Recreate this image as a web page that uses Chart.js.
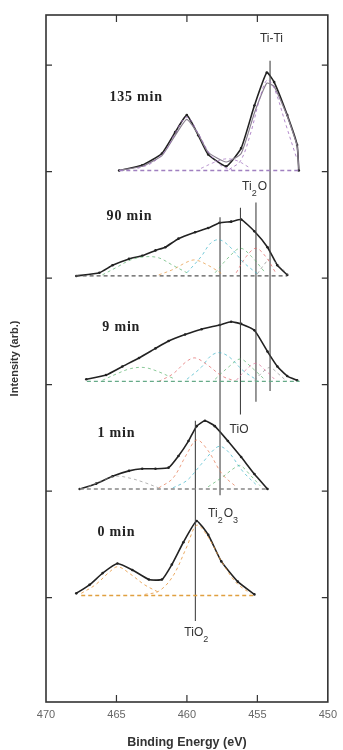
<!DOCTYPE html>
<html>
<head>
<meta charset="utf-8">
<script src="https://cdn.jsdelivr.net/npm/chart.js@4.4.1/dist/chart.umd.min.js"></script>
<style>
  html, body { margin: 0; padding: 0; background: #fff; }
</style>
</head>
<body>
<canvas id="myChart" width="343" height="750"></canvas>
<script>
'use strict';

// axis ticks (binding energy, eV) and the spectrum offsets
let xTicks = [455, 460, 465];
let yTicks = [1, 2, 3, 4, 5, 6];
let timeLabels = ['0 min', '1 min', '9 min', '90 min', '135 min'];

// 0 min envelope
let e0 = [467.85, 466.91, 465.98, 464.93, 463.87, 462.70, 461.77, 461.07, 460.25, 459.31, 458.49, 457.56, 456.39, 455.21];
let s0 = [1.04, 1.12, 1.23, 1.32, 1.26, 1.17, 1.17, 1.31, 1.52, 1.72, 1.59, 1.34, 1.15, 1.03];
// 1 min envelope
let e1 = [467.61, 466.44, 465.28, 464.11, 463.17, 462.23, 461.30, 460.60, 459.89, 459.31, 458.72, 458.02, 457.09, 456.15, 455.21, 454.28];
let s1 = [2.02, 2.07, 2.14, 2.19, 2.21, 2.21, 2.22, 2.33, 2.47, 2.61, 2.66, 2.61, 2.47, 2.32, 2.16, 2.02];
// 9 min envelope
let e9 = [467.14, 465.74, 464.58, 463.40, 462.23, 461.30, 460.13, 458.96, 457.67, 456.86, 456.15, 455.21, 454.28, 453.58, 452.88, 452.18];
let s9 = [3.05, 3.09, 3.17, 3.25, 3.34, 3.41, 3.47, 3.52, 3.56, 3.59, 3.57, 3.51, 3.31, 3.17, 3.08, 3.04];
// 90 min envelope
let e90 = [467.85, 466.21, 465.28, 464.11, 463.17, 462.23, 461.53, 460.60, 459.42, 458.49, 457.67, 456.86, 456.15, 455.21, 454.28, 453.58, 452.88];
let s90 = [4.02, 4.05, 4.12, 4.18, 4.21, 4.26, 4.29, 4.37, 4.43, 4.47, 4.52, 4.53, 4.55, 4.44, 4.29, 4.12, 4.03];
// 135 min envelope and fit
let e135 = [464.81, 463.17, 461.77, 460.83, 460.01, 459.19, 458.49, 457.21, 456.15, 455.21, 454.33, 453.81, 452.88, 452.18, 452.06];
let s135 = [5.01, 5.06, 5.17, 5.37, 5.53, 5.34, 5.16, 5.05, 5.22, 5.62, 5.93, 5.84, 5.53, 5.25, 5.01];
let f135 = [5.01, 5.05, 5.15, 5.34, 5.49, 5.35, 5.18, 5.09, 5.17, 5.55, 5.83, 5.80, 5.52, 5.24, 5.02];

// fitted components (dashed)
let c0aE = [463, 462, 461, 460, 459.3, 458.5, 457.5, 456.5, 455.5];
let c0aV = [1.03, 1.06, 1.20, 1.48, 1.68, 1.57, 1.33, 1.14, 1.04];
let c0bE = [467.5, 466.5, 465.5, 464.9, 464, 463, 462];
let c0bV = [1.04, 1.12, 1.24, 1.29, 1.22, 1.12, 1.05];

let c1aE = [462, 461, 460, 459.3, 458.5, 457.5, 456.5];
let c1aV = [2.03, 2.12, 2.35, 2.48, 2.38, 2.16, 2.04];
let c1bE = [461, 460, 459, 458, 457.6, 457, 456, 455];
let c1bV = [2.03, 2.10, 2.25, 2.40, 2.42, 2.36, 2.18, 2.05];
let c1cE = [458.5, 457.5, 456.6, 456.2, 455.5, 454.8];
let c1cV = [2.04, 2.13, 2.22, 2.24, 2.15, 2.05];
let c1dE = [467, 466, 465, 464, 463, 462];
let c1dV = [2.04, 2.10, 2.14, 2.12, 2.08, 2.03];

let c9aE = [462, 461, 460, 459.4, 458.5, 457.5, 456.5];
let c9aV = [3.03, 3.10, 3.22, 3.25, 3.18, 3.08, 3.03];
let c9bE = [460, 459, 458.3, 457.7, 457, 456, 455];
let c9bV = [3.05, 3.16, 3.27, 3.30, 3.26, 3.13, 3.04];
let c9cE = [458, 457, 456.2, 455.4, 454.5];
let c9cV = [3.05, 3.17, 3.24, 3.16, 3.05];
let c9dE = [456.5, 455.8, 455.1, 454.4, 453.7];
let c9dV = [3.04, 3.14, 3.20, 3.13, 3.04];
let c9eE = [455.2, 454.6, 454.1, 453.5, 452.9];
let c9eV = [3.04, 3.12, 3.16, 3.10, 3.03];
let c9fE = [466, 465, 464, 463, 462, 461];
let c9fV = [3.04, 3.10, 3.15, 3.16, 3.12, 3.06];

let c90aE = [466, 465, 464, 463, 462, 461, 460];
let c90aV = [4.03, 4.10, 4.17, 4.20, 4.19, 4.12, 4.05];
let c90bE = [460, 459, 458.3, 457.7, 457, 456, 455];
let c90bV = [4.05, 4.20, 4.33, 4.36, 4.30, 4.15, 4.04];
let c90cE = [458, 457, 456.2, 455.4, 454.5];
let c90cV = [4.05, 4.20, 4.28, 4.20, 4.06];
let c90dE = [456.5, 455.8, 455.1, 454.4, 453.7];
let c90dV = [4.05, 4.20, 4.28, 4.20, 4.05];
let c90eE = [462, 461, 460, 459.4, 458.5, 457.5];
let c90eV = [4.03, 4.08, 4.15, 4.17, 4.12, 4.04];
let c90fE = [455, 454.5, 454.1, 453.5, 452.8];
let c90fV = [4.04, 4.13, 4.18, 4.12, 4.03];

let c135aE = [463.5, 462.5, 461.5, 460.8, 460, 459.2, 458.4, 457.5, 456.8];
let c135aV = [5.03, 5.08, 5.20, 5.37, 5.51, 5.36, 5.17, 5.05, 5.02];
let c135bE = [457, 456.2, 455.5, 454.8, 454.3, 453.8, 453, 452.2];
let c135bV = [5.02, 5.10, 5.35, 5.70, 5.86, 5.78, 5.45, 5.12];
let c135cE = [459, 458, 457.2, 456.4, 455.6];
let c135cV = [5.03, 5.09, 5.12, 5.10, 5.04];

// backgrounds
let baseE = [[467.5, 455.3], [467.6, 454.3], [467.1, 452.0], [467.9, 452.9], [464.8, 452.0]];
let baseV = [1.02, 2.02, 3.03, 4.02, 5.01];

// chemical state markers
let peakNames = ['Ti-Ti', 'Ti2O', 'TiO', 'Ti2O3', 'TiO2'];
let peakEnergy = [454.1, 455.1, 456.2, 457.65, 459.4];
let peakTop = [6.04, 4.71, 4.66, 4.57, 2.66];
let peakBottom = [2.94, 2.84, 2.72, 1.96, 0.78];

function pts(xs, ys) {
    let out = [];
    for (let i = 0; i < xs.length; i++) {
        out.push({ x: xs[i], y: Array.isArray(ys) ? ys[i] : ys });
    }
    return out;
}

function envelope(xs, ys) {
    return {
        data: pts(xs, ys), showLine: true, borderColor: '#222', borderWidth: 1.6,
        pointRadius: 1.3, pointBackgroundColor: '#222', pointBorderWidth: 0, tension: 0.15
    };
}

function comp(xs, ys, color) {
    return {
        data: pts(xs, ys), showLine: true, borderColor: color, borderWidth: 1,
        borderDash: [3, 3], pointRadius: 0, tension: 0.35
    };
}

let datasets = [];

for (let i = 0; i < baseV.length; i++) {
    let col = ['#e0a040', '#888', '#6a8', '#555', '#a080c0'][i];
    datasets.push({
        data: pts(baseE[i], baseV[i]), showLine: true, borderColor: col, borderWidth: 1.3,
        borderDash: [4, 3], pointRadius: 0
    });
}

datasets.push(comp(c0aE, c0aV, 'rgba(230,150,60,0.8)'));
datasets.push(comp(c0bE, c0bV, 'rgba(230,150,60,0.8)'));
datasets.push(comp(c1aE, c1aV, 'rgba(230,120,80,0.7)'));
datasets.push(comp(c1bE, c1bV, 'rgba(60,180,200,0.7)'));
datasets.push(comp(c1cE, c1cV, 'rgba(90,180,110,0.7)'));
datasets.push(comp(c1dE, c1dV, 'rgba(150,150,150,0.7)'));
datasets.push(comp(c9aE, c9aV, 'rgba(225,100,100,0.7)'));
datasets.push(comp(c9bE, c9bV, 'rgba(60,180,200,0.7)'));
datasets.push(comp(c9cE, c9cV, 'rgba(90,180,110,0.7)'));
datasets.push(comp(c9dE, c9dV, 'rgba(220,110,150,0.7)'));
datasets.push(comp(c9eE, c9eV, 'rgba(140,140,140,0.7)'));
datasets.push(comp(c9fE, c9fV, 'rgba(90,180,110,0.7)'));
datasets.push(comp(c90aE, c90aV, 'rgba(90,180,110,0.7)'));
datasets.push(comp(c90bE, c90bV, 'rgba(60,180,200,0.7)'));
datasets.push(comp(c90cE, c90cV, 'rgba(90,180,110,0.7)'));
datasets.push(comp(c90dE, c90dV, 'rgba(225,100,100,0.7)'));
datasets.push(comp(c90eE, c90eV, 'rgba(230,150,60,0.7)'));
datasets.push(comp(c90fE, c90fV, 'rgba(140,140,140,0.7)'));
datasets.push(comp(c135aE, c135aV, 'rgba(160,110,190,0.8)'));
datasets.push(comp(c135bE, c135bV, 'rgba(160,110,190,0.8)'));
datasets.push(comp(c135cE, c135cV, 'rgba(160,110,190,0.7)'));

datasets.push({
    data: pts(e135, f135), showLine: true, borderColor: '#8a8090', borderWidth: 1.2,
    pointRadius: 0, tension: 0.15
});

for (let i = 0; i < peakEnergy.length; i++) {
    datasets.push({
        data: [{ x: peakEnergy[i], y: peakTop[i] }, { x: peakEnergy[i], y: peakBottom[i] }],
        showLine: true, borderColor: '#444', borderWidth: 1.1, pointRadius: 0
    });
}

datasets.push(envelope(e0, s0));
datasets.push(envelope(e1, s1));
datasets.push(envelope(e9, s9));
datasets.push(envelope(e90, s90));
datasets.push(envelope(e135, s135));

// frame with inward ticks, spectrum names and state labels
let decorations = {
    id: 'decorations',
    afterDraw(chart) {
        let ctx = chart.ctx;
        let xs = chart.scales.x;
        let ys = chart.scales.y;
        let a = chart.chartArea;
        ctx.save();
        ctx.strokeStyle = '#333';
        ctx.lineWidth = 1.6;
        ctx.strokeRect(a.left, a.top, a.right - a.left, a.bottom - a.top);
        ctx.lineWidth = 1.2;
        ctx.beginPath();
        xTicks.forEach(function (t) {
            let px = xs.getPixelForValue(t);
            ctx.moveTo(px, a.bottom); ctx.lineTo(px, a.bottom - 7);
            ctx.moveTo(px, a.top); ctx.lineTo(px, a.top + 7);
        });
        yTicks.forEach(function (t) {
            let py = ys.getPixelForValue(t);
            ctx.moveTo(a.left, py); ctx.lineTo(a.left + 6, py);
            ctx.moveTo(a.right, py); ctx.lineTo(a.right - 6, py);
        });
        ctx.stroke();

        // spectrum names
        ctx.fillStyle = '#222';
        ctx.font = 'bold 14px "Liberation Serif", "DejaVu Serif", serif';
        ctx.letterSpacing = '0.8px';
        ctx.textBaseline = 'middle';
        ctx.textAlign = 'left';
        let namePos = [[466.35, 1.61], [466.35, 2.54], [466.0, 3.54], [465.7, 4.58], [465.5, 5.70]];
        for (let i = 0; i < timeLabels.length; i++) {
            ctx.fillText(timeLabels[i], xs.getPixelForValue(namePos[i][0]), ys.getPixelForValue(namePos[i][1]));
        }

        // state labels with subscripts
        ctx.letterSpacing = '0px';
        ctx.fillStyle = '#333';
        function sub(parts, eV, v) {
            let big = '12px "Liberation Sans", Arial, sans-serif';
            let small = '9px "Liberation Sans", Arial, sans-serif';
            let w = 0;
            parts.forEach(function (p) { ctx.font = p[1] ? small : big; w += ctx.measureText(p[0]).width + (p[1] ? 1 : 0); });
            let x = xs.getPixelForValue(eV) - w / 2;
            let y = ys.getPixelForValue(v);
            parts.forEach(function (p) {
                ctx.font = p[1] ? small : big;
                ctx.fillText(p[0], x, p[1] ? y + 7 : y);
                x += ctx.measureText(p[0]).width + (p[1] ? 1 : 0);
            });
        }
        ctx.textAlign = 'left';
        sub([['Ti-Ti', 0]], 454.0, 6.25);
        sub([['Ti', 0], ['2', 1], ['O', 0]], 455.2, 4.86);
        sub([['TiO', 0]], 456.3, 2.58);
        sub([['Ti', 0], ['2', 1], ['O', 0], ['3', 1]], 457.4, 1.79);
        sub([['TiO', 0], ['2', 1]], 459.3, 0.67);
        ctx.restore();
    }
};

let ctx = document.getElementById('myChart').getContext('2d');
let myChart = new Chart(ctx, {
    type: 'scatter',
    data: { datasets: datasets },
    options: {
        responsive: false,
        animation: false,
        devicePixelRatio: 1,
        layout: { padding: { left: 0, right: 12, top: 15, bottom: 0 } },
        plugins: { legend: { display: false }, tooltip: { enabled: false } },
        scales: {
            x: {
                type: 'linear', reverse: true, min: 450, max: 470,
                grid: { display: false, drawTicks: false },
                border: { display: false },
                ticks: { stepSize: 5, padding: 6, color: '#666', font: { family: 'Liberation Sans', size: 11 } },
                title: {
                    display: true, text: 'Binding Energy (eV)', color: '#333',
                    font: { family: 'Liberation Sans', size: 12.5, weight: 'bold' },
                    padding: { top: 7.8, bottom: 0 }
                }
            },
            y: {
                min: 0.02, max: 6.47,
                grid: { display: false, drawTicks: false },
                border: { display: false },
                ticks: { display: false },
                title: {
                    display: true, text: 'Intensity (arb.)', color: '#333',
                    font: { family: 'Liberation Sans', size: 11, weight: 'bold' },
                    padding: { top: 8, bottom: 24.8 }
                }
            }
        }
    },
    plugins: [decorations]
});
</script>
</body>
</html>
